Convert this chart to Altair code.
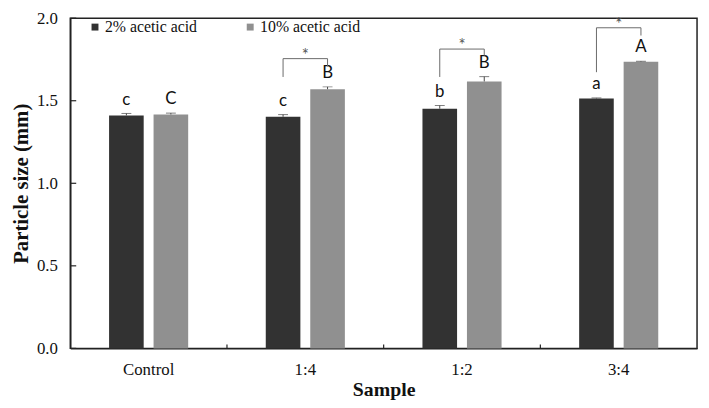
import altair as alt
import pandas as pd

# ---- data ----
samples = ["Control", "1:4", "1:2", "3:4"]
acids = ["2% acetic acid", "10% acetic acid"]
size_2 = [1.411, 1.403, 1.452, 1.514]
size_10 = [1.417, 1.570, 1.617, 1.736]
err_2 = [0.012, 0.013, 0.019, 0.003]
err_10 = [0.008, 0.014, 0.029, 0.003]
letters_2 = ["c", "c", "b", "a"]
letters_10 = ["C", "B", "B", "A"]
sig_samples = ["1:4", "1:2", "3:4"]
bracket_top = [1.755, 1.813, 1.942]
bracket_left_end = [1.644, 1.644, 1.673]
bracket_right_end = [1.708, 1.773, 1.895]
y_ticks = [0.0, 0.5, 1.0, 1.5, 2.0]
x_boundaries = ["1:4", "1:2", "3:4"]

rows = []
for i, s in enumerate(samples):
    rows.append({"Sample": s, "Acid": acids[0], "size": size_2[i], "err": err_2[i],
                 "top": size_2[i] + err_2[i], "letter": letters_2[i]})
    rows.append({"Sample": s, "Acid": acids[1], "size": size_10[i], "err": err_10[i],
                 "top": size_10[i] + err_10[i], "letter": letters_10[i]})
bars_df = pd.DataFrame(rows)

br_rows = []
for i, s in enumerate(sig_samples):
    br_rows += [
        {"Sample": s, "Acid": acids[0], "v": bracket_left_end[i], "o": 0},
        {"Sample": s, "Acid": acids[0], "v": bracket_top[i], "o": 1},
        {"Sample": s, "Acid": acids[1], "v": bracket_top[i], "o": 2},
        {"Sample": s, "Acid": acids[1], "v": bracket_right_end[i], "o": 3},
    ]
br_df = pd.DataFrame(br_rows)
star_df = pd.DataFrame({"Sample": sig_samples, "v": bracket_top, "t": ["*"] * 3})
ytick_df = pd.DataFrame({"v": y_ticks})
xtick_df = pd.DataFrame({"Sample": x_boundaries})

SERIF = "Liberation Serif"
SANS = "Lato"
W, H = 634, 334

x_scale = alt.Scale(domain=samples, paddingInner=0, paddingOuter=0)
off_scale = alt.Scale(domain=acids, paddingInner=0.222, paddingOuter=0.872)
y_scale = alt.Scale(domain=[0, 2], nice=False)

X = alt.X("Sample:N", scale=x_scale, sort=samples,
          axis=alt.Axis(title="Sample", labelAngle=0, ticks=False, labelPadding=13,
                        labelFont=SERIF, labelFontSize=17, labelColor="#111",
                        titleFont=SERIF, titleFontSize=20, titleFontWeight="bold",
                        titleColor="#111", titlePadding=3,
                        domainColor="#222", domainWidth=1.5))
XO = alt.XOffset("Acid:N", scale=off_scale, sort=acids)
Y = alt.Y("size:Q", scale=y_scale,
          axis=alt.Axis(title="Particle size (mm)", values=y_ticks, format=".1f",
                        ticks=False, labelPadding=13, grid=False,
                        labelFont=SERIF, labelFontSize=17, labelColor="#111",
                        titleFont=SERIF, titleFontSize=21, titleFontWeight="bold",
                        titleColor="#111", titlePadding=5,
                        domainColor="#222", domainWidth=1.5))

bars = alt.Chart(bars_df).mark_bar().encode(
    x=X, xOffset=XO, y=Y,
    color=alt.Color("Acid:N", sort=acids,
                    scale=alt.Scale(domain=acids, range=["#323232", "#909090"]),
                    legend=alt.Legend(orient="none", legendX=17, legendY=1,
                                      direction="horizontal", title=None,
                                      symbolType="square", symbolSize=49,
                                      symbolStrokeWidth=0, labelFont=SERIF,
                                      labelFontSize=16, labelColor="#111",
                                      labelOffset=2, columnPadding=45)),
)

err_rule = alt.Chart(bars_df).mark_rule(strokeWidth=1, color="#444").encode(
    x=alt.X("Sample:N", scale=x_scale, sort=samples), xOffset=XO,
    y=alt.Y("size:Q", scale=y_scale), y2="top:Q",
)
err_cap = alt.Chart(bars_df).mark_tick(thickness=1, size=10, color="#444",
                                        orient="horizontal").encode(
    x=alt.X("Sample:N", scale=x_scale, sort=samples), xOffset=XO,
    y=alt.Y("top:Q", scale=y_scale),
)

letters = alt.Chart(bars_df).mark_text(font=SANS, fontSize=17, color="#111",
                                        baseline="alphabetic", dy=-9).encode(
    x=alt.X("Sample:N", scale=x_scale, sort=samples), xOffset=XO,
    y=alt.Y("top:Q", scale=y_scale), text="letter:N",
)

brackets = alt.Chart(br_df).mark_line(color="#6a6a6a", strokeWidth=1).encode(
    x=alt.X("Sample:N", scale=x_scale, sort=samples), xOffset=XO,
    y=alt.Y("v:Q", scale=y_scale), detail="Sample:N", order="o:Q",
)

stars = alt.Chart(star_df).mark_text(font=SANS, fontSize=17, color="#555",
                                      baseline="alphabetic", dy=2).encode(
    x=alt.X("Sample:N", scale=x_scale, sort=samples),
    y=alt.Y("v:Q", scale=y_scale), text="t:N",
)

yticks = alt.Chart(ytick_df).mark_rule(color="#222", strokeWidth=1.2).encode(
    y=alt.Y("v:Q", scale=y_scale), x=alt.value(0), x2=alt.value(6),
)
xticks = alt.Chart(xtick_df).mark_rule(color="#222", strokeWidth=1.2).encode(
    x=alt.X("Sample:N", scale=x_scale, sort=samples, bandPosition=0),
    y=alt.value(H), y2=alt.value(H - 4),
)

chart = alt.layer(bars, err_rule, err_cap, letters, brackets, stars, yticks, xticks).properties(
    width=W, height=H,
    autosize=alt.AutoSizeParams(type="none"),
    padding={"left": 63, "top": 8, "right": 4, "bottom": 58},
    background="white",
).configure_view(stroke="#222", strokeWidth=1.5).configure_legend(
    labelFont=SERIF, labelFontSize=16
)

chart.save("out.html", embed_options={"renderer": "svg", "actions": False})
